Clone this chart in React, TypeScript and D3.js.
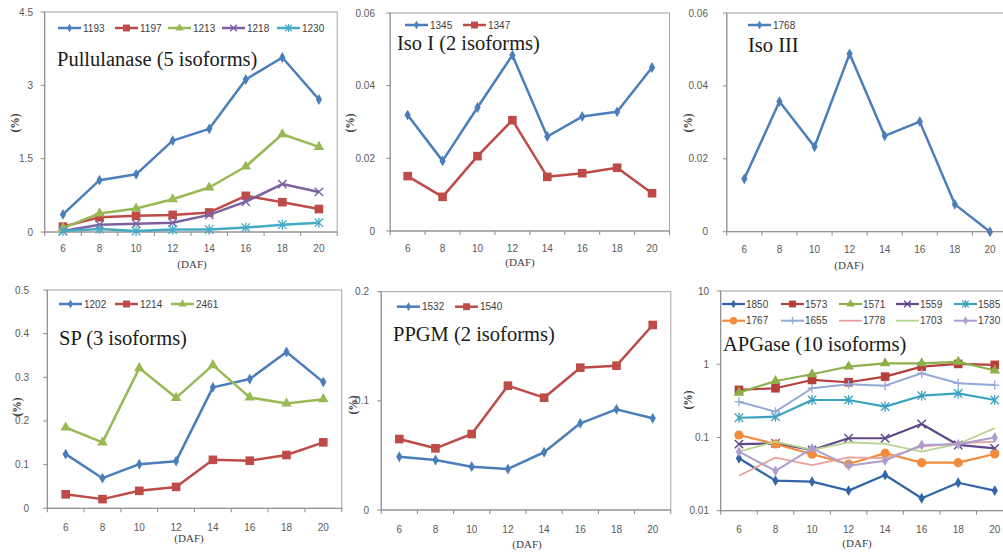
import React from "react";
import * as d3 from "d3";

const days = [6, 8, 10, 12, 14, 16, 18, 20];

const pull1193 = [0.36, 1.06, 1.18, 1.87, 2.11, 3.12, 3.57, 2.71];
const pull1197 = [0.11, 0.3, 0.33, 0.35, 0.4, 0.74, 0.61, 0.47];
const pull1213 = [0.08, 0.38, 0.48, 0.67, 0.91, 1.34, 2.0, 1.74];
const pull1218 = [0.02, 0.15, 0.17, 0.19, 0.35, 0.62, 0.98, 0.82];
const pull1230 = [0.02, 0.06, 0.02, 0.05, 0.05, 0.09, 0.15, 0.19];

const iso1345 = [0.0319, 0.0193, 0.034, 0.0484, 0.026, 0.0315, 0.0328, 0.045];
const iso1347 = [0.0151, 0.0094, 0.0206, 0.0305, 0.0149, 0.0159, 0.0174, 0.0104];

const iso1768 = [0.0145, 0.0357, 0.0233, 0.0488, 0.0263, 0.0302, 0.0075, 0];

const sp1202 = [0.124, 0.069, 0.101, 0.108, 0.277, 0.296, 0.358, 0.289];
const sp1214 = [0.032, 0.021, 0.04, 0.049, 0.111, 0.109, 0.122, 0.151];
const sp2461 = [0.185, 0.151, 0.321, 0.253, 0.328, 0.254, 0.24, 0.25];

const ppgm1532 = [0.0488, 0.0458, 0.0397, 0.0376, 0.0529, 0.0794, 0.0922, 0.084];
const ppgm1540 = [0.065, 0.0565, 0.0696, 0.1139, 0.1029, 0.1304, 0.1322, 0.1695];

const ap1850 = [0.052, 0.0257, 0.0249, 0.0188, 0.0307, 0.0148, 0.0241, 0.0188];
const ap1573 = [0.446, 0.47, 0.61, 0.568, 0.677, 0.927, 1.01, 0.98];
const ap1571 = [0.41, 0.59, 0.73, 0.93, 1.03, 1.03, 1.08, 0.82];
const ap1559 = [0.081, 0.083, 0.0675, 0.0976, 0.0976, 0.153, 0.079, 0.071];
const ap1585 = [0.186, 0.192, 0.325, 0.325, 0.264, 0.372, 0.4, 0.325];
const ap1767 = [0.108, 0.0815, 0.059, 0.0434, 0.0608, 0.0453, 0.0453, 0.0595];
const ap1655 = [0.308, 0.225, 0.47, 0.533, 0.51, 0.754, 0.55, 0.52];
const ap1778 = [0.03, 0.053, 0.042, 0.0536, 0.052, 0.075, 0.083, 0.0877];
const ap1703 = [0.064, 0.0877, 0.0675, 0.086, 0.0815, 0.064, 0.0815, 0.134];
const ap1730 = [0.064, 0.0349, 0.071, 0.0412, 0.0482, 0.079, 0.081, 0.1];

const pullTicks = [0, 1.5, 3, 4.5];
const pullTickLabels = ["0", "1.5", "3", "4.5"];
const isoTicks = [0, 0.02, 0.04, 0.06];
const isoTickLabels = ["0", "0.02", "0.04", "0.06"];
const spTicks = [0, 0.1, 0.2, 0.3, 0.4, 0.5];
const spTickLabels = ["0", "0.1", "0.2", "0.3", "0.4", "0.5"];
const ppgmTicks = [0, 0.1, 0.2];
const ppgmTickLabels = ["0", "0.1", "0.2"];
const apTicks = [0.01, 0.1, 1, 10];
const apTickLabels = ["0.01", "0.1", "1", "10"];

type Marker = "diamond" | "square" | "triangle" | "x" | "star" | "circle" | "plus" | "none";
type Series = { name: string; values: number[]; color: string; marker: Marker; width?: number };

const BLUE = "#4A7EBB";
const RED = "#BE4B48";
const GREEN = "#98B954";
const PURPLE = "#7D60A0";
const CYAN = "#46AAC5";

const panels = [
  {
    title: "Pullulanase (5 isoforms)",
    x0: 44.7, x1: 337.2, yTop: 12, yBot: 232, domain: [0, 4.5], log: false,
    ticks: pullTicks, tickLabels: pullTickLabels, labelEnd: 33,
    yLabel: [15, 123], legendY: [28], legendX: [58, 115, 168, 222, 277], textOff: 25,
    titlePos: [57, 66], xLabelY: 252, dafY: 268, dafX: 192,
    series: [
      { name: "1193", values: pull1193, color: BLUE, marker: "diamond" },
      { name: "1197", values: pull1197, color: RED, marker: "square" },
      { name: "1213", values: pull1213, color: GREEN, marker: "triangle" },
      { name: "1218", values: pull1218, color: PURPLE, marker: "x" },
      { name: "1230", values: pull1230, color: CYAN, marker: "star" },
    ] as Series[],
  },
  {
    title: "Iso I (2 isoforms)",
    x0: 390.2, x1: 669.5, yTop: 13, yBot: 231, domain: [0, 0.06], log: false,
    ticks: isoTicks, tickLabels: isoTickLabels, labelEnd: 375,
    yLabel: [350, 123], legendY: [25], legendX: [405, 463], textOff: 25,
    titlePos: [397, 50], xLabelY: 252, dafY: 266, dafX: 520,
    series: [
      { name: "1345", values: iso1345, color: BLUE, marker: "diamond" },
      { name: "1347", values: iso1347, color: RED, marker: "square" },
    ] as Series[],
  },
  {
    title: "Iso III",
    x0: 726.8, x1: 1007.5, yTop: 13, yBot: 231.7, domain: [0, 0.06], log: false,
    ticks: isoTicks, tickLabels: isoTickLabels, labelEnd: 708,
    yLabel: [688, 123], legendY: [25], legendX: [748], textOff: 25,
    titlePos: [748, 52], xLabelY: 253, dafY: 269, dafX: 849,
    series: [{ name: "1768", values: iso1768, color: BLUE, marker: "diamond" }] as Series[],
  },
  {
    title: "SP (3 isoforms)",
    x0: 47.3, x1: 341.7, yTop: 290, yBot: 508.3, domain: [0, 0.5], log: false,
    ticks: spTicks, tickLabels: spTickLabels, labelEnd: 29,
    yLabel: [17, 407], legendY: [304], legendX: [59, 115, 171], textOff: 25,
    titlePos: [59, 345], xLabelY: 530.5, dafY: 542, dafX: 189,
    series: [
      { name: "1202", values: sp1202, color: BLUE, marker: "diamond" },
      { name: "1214", values: sp1214, color: RED, marker: "square" },
      { name: "2461", values: sp2461, color: GREEN, marker: "triangle" },
    ] as Series[],
  },
  {
    title: "PPGM (2 isoforms)",
    x0: 381.2, x1: 670.8, yTop: 291.7, yBot: 510, domain: [0, 0.2], log: false,
    ticks: ppgmTicks, tickLabels: ppgmTickLabels, labelEnd: 369,
    yLabel: [353, 405], legendY: [306.7], legendX: [397, 455], textOff: 25,
    titlePos: [393, 341], xLabelY: 533, dafY: 548, dafX: 527,
    series: [
      { name: "1532", values: ppgm1532, color: BLUE, marker: "diamond" },
      { name: "1540", values: ppgm1540, color: RED, marker: "square" },
    ] as Series[],
  },
  {
    title: "APGase (10 isoforms)",
    x0: 720.7, x1: 1013, yTop: 291, yBot: 510.7, domain: [0.01, 10], log: true,
    ticks: apTicks, tickLabels: apTickLabels, labelEnd: 709,
    yLabel: [688, 400], legendY: [304, 320.7], legendX: [722, 781, 839, 896, 954], textOff: 24,
    titlePos: [723, 351], xLabelY: 533, dafY: 547, dafX: 857,
    series: [
      { name: "1850", values: ap1850, color: "#3465A8", marker: "diamond", width: 2.2 },
      { name: "1573", values: ap1573, color: "#B53F3B", marker: "square", width: 2.2 },
      { name: "1571", values: ap1571, color: "#8DB04A", marker: "triangle", width: 2.2 },
      { name: "1559", values: ap1559, color: "#5F4889", marker: "x", width: 2.2 },
      { name: "1585", values: ap1585, color: "#3BA2BF", marker: "star", width: 2.2 },
      { name: "1767", values: ap1767, color: "#F28C3C", marker: "circle", width: 2.2 },
      { name: "1655", values: ap1655, color: "#93A9D8", marker: "plus", width: 2.0 },
      { name: "1778", values: ap1778, color: "#E8A19C", marker: "none", width: 1.8 },
      { name: "1703", values: ap1703, color: "#B9D48E", marker: "none", width: 1.8 },
      { name: "1730", values: ap1730, color: "#AE9ED0", marker: "diamond", width: 2.0 },
    ] as Series[],
  },
];

function MarkerShape({ type, color, x, y, s = 1 }: { type: Marker; color: string; x: number; y: number; s?: number }) {
  const t = `translate(${x},${y})`;
  switch (type) {
    case "diamond":
      return <path transform={t} d={d3.symbol(d3.symbolDiamond, 34 * s * s)()!} fill={color} />;
    case "square":
      return <rect x={x - 4.3 * s} y={y - 4.3 * s} width={8.6 * s} height={8.6 * s} fill={color} />;
    case "triangle":
      return <path transform={t} d={d3.symbol(d3.symbolTriangle, 48 * s * s)()!} fill={color} />;
    case "circle":
      return <circle cx={x} cy={y} r={4.6 * s} fill={color} />;
    case "x": {
      const r = 4.2 * s;
      return (
        <path transform={t} d={`M${-r},${-r}L${r},${r}M${-r},${r}L${r},${-r}`} stroke={color} strokeWidth={1.4} fill="none" />
      );
    }
    case "star": {
      const r = 4.2 * s;
      return (
        <path transform={t} d={`M${-r},${-r}L${r},${r}M${-r},${r}L${r},${-r}M0,${-r * 1.2}L0,${r * 1.2}`} stroke={color} strokeWidth={1.3} fill="none" />
      );
    }
    case "plus": {
      const r = 4.5 * s;
      return <path transform={t} d={`M${-r},0L${r},0M0,${-r}L0,${r}`} stroke={color} strokeWidth={1.3} fill="none" />;
    }
    default:
      return null;
  }
}

function Panel({ p }: { p: (typeof panels)[number] }) {
  const xs = d3.scaleBand<number>().domain(days).range([p.x0, p.x1]).padding(0);
  const cx = (d: number) => (xs(d) as number) + xs.bandwidth() / 2;
  const ys = p.log
    ? d3.scaleLog().domain(p.domain as [number, number]).range([p.yBot, p.yTop])
    : d3.scaleLinear().domain(p.domain as [number, number]).range([p.yBot, p.yTop]);
  const line = d3
    .line<number>()
    .x((_, i) => cx(days[i]))
    .y((v) => ys(v));
  const boundaries = days.map((d) => xs(d) as number).concat([p.x1]);
  const axisColor = "#8C8C8C";
  const perRow = p.legendX.length;
  return (
    <g>
      <rect x={p.x0} y={p.yTop} width={p.x1 - p.x0} height={p.yBot - p.yTop} fill="none" stroke="#A6A6A6" strokeWidth={1} />
      <line x1={p.x0} x2={p.x0} y1={p.yTop} y2={p.yBot} stroke={axisColor} />
      {p.ticks.map((t) => (
        <line key={"yt" + t} x1={p.x0 - 4} x2={p.x0} y1={ys(t)} y2={ys(t)} stroke={axisColor} />
      ))}
      {p.ticks.map((t, i) => (
        <text key={"yl" + t} x={p.labelEnd} y={ys(t)} dy="0.35em" textAnchor="end" fontSize={10} fill="#595959" fontFamily="'Liberation Sans', Arial, sans-serif">
          {p.tickLabels[i]}
        </text>
      ))}
      <line x1={p.x0} x2={p.x1} y1={p.yBot} y2={p.yBot} stroke={axisColor} />
      {boundaries.map((b, i) => (
        <line key={"xt" + i} x1={b} x2={b} y1={p.yBot} y2={p.yBot + 4} stroke={axisColor} />
      ))}
      {days.map((d) => (
        <text key={"xl" + d} x={cx(d)} y={p.xLabelY} textAnchor="middle" fontSize={10} fill="#595959" fontFamily="'Liberation Sans', Arial, sans-serif">
          {d}
        </text>
      ))}
      <text x={p.dafX} y={p.dafY} textAnchor="middle" fontSize={11} fill="#404040" fontFamily="'Liberation Serif', 'Times New Roman', serif">
        (DAF)
      </text>
      <text transform={`translate(${p.yLabel[0]},${p.yLabel[1]}) rotate(-90)`} textAnchor="middle" dy="0.35em" fontSize={11.5} fontWeight="bold" fill="#404040" fontFamily="'Liberation Serif', 'Times New Roman', serif">
        (%)
      </text>
      {p.series.map((s) => (
        <g key={s.name}>
          <path d={line(s.values)!} fill="none" stroke={s.color} strokeWidth={s.width ?? 2.5} strokeLinejoin="round" />
          {s.values.map((v, i) => (
            <MarkerShape key={i} type={s.marker} color={s.color} x={cx(days[i])} y={ys(v)} />
          ))}
        </g>
      ))}
      {p.series.map((s, i) => {
        const lx = p.legendX[i % perRow];
        const ly = p.legendY[Math.floor(i / perRow)];
        return (
          <g key={"lg" + s.name}>
            <line x1={lx} x2={lx + 23} y1={ly} y2={ly} stroke={s.color} strokeWidth={s.width ?? 2.5} />
            <MarkerShape type={s.marker} color={s.color} x={lx + 11.5} y={ly} s={0.8} />
            <text x={lx + p.textOff} y={ly} dy="0.35em" fontSize={10} fill="#404040" fontFamily="'Liberation Sans', Arial, sans-serif">
              {s.name}
            </text>
          </g>
        );
      })}
      <text x={p.titlePos[0]} y={p.titlePos[1]} fontSize={20.5} fill="#1a1a1a" fontFamily="'Liberation Serif', 'Times New Roman', serif">
        {p.title}
      </text>
    </g>
  );
}

export default function App() {
  return (
    <svg width={1003} height={552} style={{ position: "absolute", left: 0, top: 0, background: "#fff" }}>
      <rect width={1003} height={552} fill="#fff" />
      {panels.map((p) => (
        <Panel key={p.title} p={p} />
      ))}
    </svg>
  );
}
